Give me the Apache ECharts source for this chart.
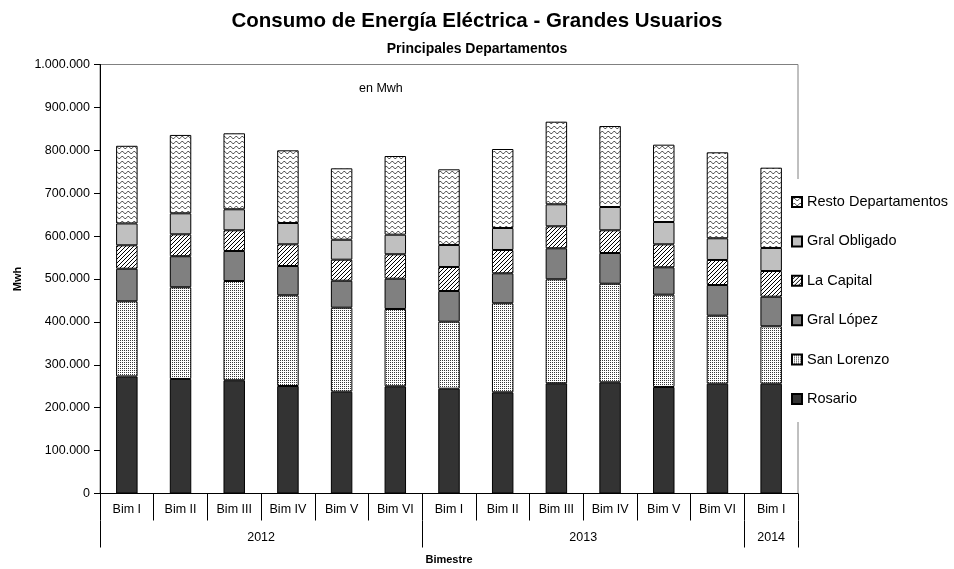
<!DOCTYPE html>
<html>
<head>
<meta charset="utf-8">
<script src="https://cdn.jsdelivr.net/npm/echarts@6/dist/echarts.min.js"></script>
<style>
html,body{margin:0;padding:0;background:#fff;}
#chart{width:954px;height:569px;}
</style>
</head>
<body>
<div id="chart"></div>
<script>
var categories = ['Bim I','Bim II','Bim III','Bim IV','Bim V','Bim VI','Bim I','Bim II','Bim III','Bim IV','Bim V','Bim VI','Bim I'];
var years = ['2012','2013','2014'];
var yearSpans = [6, 6, 1];

var rosario      = [273000, 267000, 264000, 250600, 237300, 249900, 244300, 235900, 256900, 259200, 248300, 256000, 256000];
var sanLorenzo   = [175000, 213700, 231300, 211400, 195800, 180200, 156200, 207500, 242400, 229800, 215100, 158500, 133700];
var gralLopez    = [ 76000,  72400,  70000,  68300,  62900,  70600,  71500,  69900,  72300,  71600,  63900,  71500,  69100];
var laCapital    = [ 54500,  51000,  48200,  50500,  49000,  56900,  56000,  54300,  51200,  52900,  53500,  58300,  59800];
var gralObligado = [ 51000,  49000,  49000,  49700,  46600,  45700,  51300,  51300,  51300,  54300,  52100,  50600,  53700];
var resto        = [181000, 182700, 177100, 169500, 166400, 183400, 176400, 184100, 192600, 188800, 180200, 200400, 187200];

var seriesNames = ['Rosario','San Lorenzo','Gral López','La Capital','Gral Obligado','Resto Departamentos'];
var seriesData = [rosario, sanLorenzo, gralLopez, laCapital, gralObligado, resto];

function tile(w, h, draw) {
  var c = document.createElement('canvas');
  c.width = w; c.height = h;
  var ctx = c.getContext('2d');
  ctx.fillStyle = '#ffffff';
  ctx.fillRect(0, 0, w, h);
  draw(ctx);
  return { image: c, repeat: 'repeat' };
}
var dots = tile(2, 2, function (ctx) {
  ctx.fillStyle = '#3a3a3a';
  ctx.fillRect(0, 0, 1, 1);
});
var hatch = tile(4, 4, function (ctx) {
  ctx.fillStyle = '#000';
  ctx.fillRect(3, 0, 1, 1);
  ctx.fillRect(2, 1, 1, 1);
  ctx.fillRect(1, 2, 1, 1);
  ctx.fillRect(0, 3, 1, 1);
});
var waves = tile(6, 5, function (ctx) {
  ctx.strokeStyle = '#555';
  ctx.lineWidth = 1;
  ctx.beginPath();
  ctx.moveTo(0, 3.5); ctx.lineTo(1.5, 1.5); ctx.lineTo(3, 1.5); ctx.lineTo(4.5, 3.5); ctx.lineTo(6, 3.5);
  ctx.stroke();
});
var fills = ['#333333', dots, '#808080', hatch, '#c0c0c0', waves];

function fmt(v) { return String(v).replace(/\B(?=(\d{3})+(?!\d))/g, '.'); }

var yearTicks = [0];
var yearLabelPos = [];
var acc = 0;
yearSpans.forEach(function (s) { yearLabelPos.push(acc + s / 2); acc += s; yearTicks.push(acc); });

var font = 'Liberation Sans, Arial, sans-serif';
var chart = echarts.init(document.getElementById('chart'), null, { renderer: 'canvas' });
chart.setOption({
  backgroundColor: '#fff',
  animation: false,
  textStyle: { fontFamily: font },
  title: [
    { text: 'Consumo de Energía Eléctrica - Grandes Usuarios', left: 'center', top: 6,
      textStyle: { fontFamily: font, fontSize: 20.5, fontWeight: 'bold', color: '#000' } },
    { text: 'Principales Departamentos', left: 'center', top: 37,
      textStyle: { fontFamily: font, fontSize: 14, fontWeight: 'bold', color: '#000' } }
  ],
  grid: { left: 100, right: 156, top: 64.5, bottom: 75.5, show: true, borderColor: '#808080', borderWidth: 1,
    backgroundColor: 'transparent', containLabel: false, outerBoundsMode: 'none' },
  legend: {
    orient: 'vertical', left: 786, top: 179, padding: [15, 5, 15, 5],
    backgroundColor: '#fff',
    icon: 'rect',
    itemWidth: 10, itemHeight: 10, itemGap: 23.4,
    data: seriesNames.slice().reverse(),
    textStyle: { fontFamily: font, fontSize: 14.5, color: '#000', lineHeight: 16 }
  },
  graphic: [
    { type: 'text', left: 359, top: 82, style: { text: 'en Mwh', font: '12.5px ' + font, fill: '#000' } }
  ],
  xAxis: [
    { type: 'category', data: categories, gridIndex: 0,
      axisLine: { lineStyle: { color: '#000' } },
      axisTick: { show: true, length: 27, lineStyle: { color: '#000' }, interval: 0 },
      axisLabel: { interval: 0, color: '#000', fontSize: 12.5, margin: 10, fontFamily: font } },
    { type: 'value', min: 0, max: categories.length, position: 'bottom', offset: 27, gridIndex: 0,
      name: 'Bimestre', nameLocation: 'middle', nameGap: 34,
      nameTextStyle: { fontFamily: font, fontSize: 11, fontWeight: 'bold', color: '#000' },
      axisLine: { show: false },
      splitLine: { show: false },
      axisTick: { show: true, length: 27, lineStyle: { color: '#000' }, customValues: yearTicks },
      axisLabel: { color: '#000', fontSize: 12.5, margin: 11, fontFamily: font, customValues: yearLabelPos,
        formatter: function (v) { var i = yearLabelPos.indexOf(v); return i >= 0 ? years[i] : ''; } } }
  ],
  yAxis: {
    type: 'value', min: 0, max: 1000000, interval: 100000,
    name: 'Mwh', nameLocation: 'middle', nameGap: 77, nameRotate: 90,
    nameTextStyle: { fontFamily: font, fontSize: 11, fontWeight: 'bold', color: '#000' },
    axisLine: { show: true, lineStyle: { color: '#000' } },
    axisTick: { show: true, length: 6, lineStyle: { color: '#000' } },
    splitLine: { show: false },
    axisLabel: { color: '#000', fontSize: 12.5, margin: 10, fontFamily: font, formatter: fmt }
  },
  series: seriesNames.map(function (n, i) {
    return {
      name: n, type: 'bar', stack: 'total', barWidth: '40%', xAxisIndex: 0,
      data: seriesData[i],
      itemStyle: { color: fills[i], borderColor: '#000', borderWidth: 1 },
      emphasis: { disabled: true }
    };
  })
});
</script>
</body>
</html>
